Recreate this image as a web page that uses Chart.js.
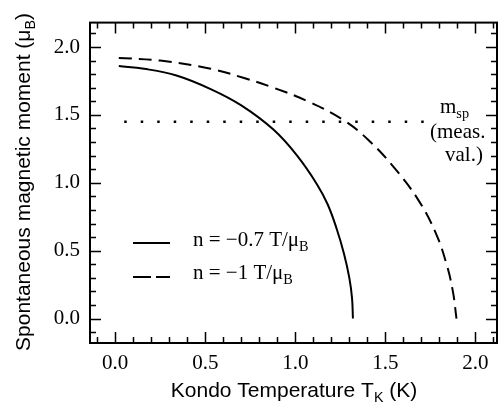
<!DOCTYPE html>
<html>
<head>
<meta charset="utf-8">
<script src="https://cdn.jsdelivr.net/npm/chart.js@4.4.1/dist/chart.umd.min.js"></script>
<style>
html, body { margin: 0; padding: 0; background: #fff; }
#wrap { width: 498px; height: 409px; }
</style>
</head>
<body>
<div id="wrap"><canvas id="chart" width="498" height="409"></canvas></div>
<script>
// values
const solidT = [0.02, 0.16, 0.34, 0.53, 0.70, 0.88, 1.01, 1.12, 1.18, 1.23, 1.27, 1.30, 1.315, 1.32];
const solidM = [1.86, 1.84, 1.79, 1.69, 1.57, 1.39, 1.20, 0.99, 0.84, 0.66, 0.48, 0.30, 0.15, 0.00];

const dashT = [0.02, 0.25, 0.53, 0.72, 0.88, 1.07, 1.27, 1.41, 1.55, 1.68, 1.78, 1.84, 1.875, 1.895];
const dashM = [1.92, 1.90, 1.84, 1.77, 1.70, 1.60, 1.46, 1.31, 1.11, 0.88, 0.63, 0.40, 0.20, 0.00];

const measT = [0.05, 1.74];
const measM = [1.45, 1.45];

const xTicks = [0, 0.5, 1.0, 1.5, 2.0];
const yTicks = [0, 0.5, 1.0, 1.5, 2.0];

const legendLabels = [['n = \u22120.7 T/\u03bc', 'B'], ['n = \u22121 T/\u03bc', 'B']];

const SERIF = '"Liberation Serif", "Times New Roman", serif';
const SANS = '"Liberation Sans", Arial, sans-serif';

function pts(xs, ys) {
    return xs.map((v, i) => ({ x: v, y: ys[i] }));
}

// draws text where parts can be subscript
function richText(ctx, parts, x, y, size, family, align) {
    let widths = [];
    let total = 0;
    parts.forEach(p => {
        ctx.font = (p.sub ? size * 0.68 : size) + 'px ' + family;
        const w = ctx.measureText(p.t).width;
        widths.push(w);
        total += w;
    });
    let cx = align === 'center' ? x - total / 2 : (align === 'right' ? x - total : x);
    ctx.textAlign = 'left';
    ctx.textBaseline = 'alphabetic';
    parts.forEach((p, i) => {
        ctx.font = (p.sub ? size * 0.68 : size) + 'px ' + family;
        ctx.fillText(p.t, cx, p.sub ? y + size * 0.22 : y);
        cx += widths[i];
    });
}

const framePlugin = {
    id: 'frame',
    afterDraw(chart) {
        const ctx = chart.ctx;
        const a = chart.chartArea;
        const xs = chart.scales.x;
        const ys = chart.scales.y;
        ctx.save();
        ctx.strokeStyle = '#000';
        ctx.fillStyle = '#000';
        ctx.lineWidth = 2;
        ctx.strokeRect(a.left, a.top, a.right - a.left, a.bottom - a.top);

        // inward ticks on all four sides
        ctx.lineWidth = 1.5;
        ctx.beginPath();
        for (let i = -2; i <= 22; i++) {
            const px = Math.round(xs.getPixelForValue(i / 10)) + 0.5;
            if (px < a.left + 2 || px > a.right - 2) continue;
            const len = i % 5 === 0 ? 11 : 6;
            ctx.moveTo(px, a.bottom); ctx.lineTo(px, a.bottom - len);
            ctx.moveTo(px, a.top); ctx.lineTo(px, a.top + len);
        }
        for (let i = -2; i <= 22; i++) {
            const py = Math.round(ys.getPixelForValue(i / 10)) + 0.5;
            if (py < a.top + 2 || py > a.bottom - 2) continue;
            const len = i % 5 === 0 ? 11 : 6;
            ctx.moveTo(a.left, py); ctx.lineTo(a.left + len, py);
            ctx.moveTo(a.right, py); ctx.lineTo(a.right - len, py);
        }
        ctx.stroke();

        // legend
        ctx.lineWidth = 2;
        ctx.beginPath();
        ctx.moveTo(133, 243); ctx.lineTo(170, 243);
        ctx.stroke();
        ctx.setLineDash([18, 5]);
        ctx.beginPath();
        ctx.moveTo(133, 277); ctx.lineTo(170, 277);
        ctx.stroke();
        ctx.setLineDash([]);
        richText(ctx, [{ t: legendLabels[0][0] }, { t: legendLabels[0][1], sub: true }], 193, 246, 21, SERIF, 'left');
        richText(ctx, [{ t: legendLabels[1][0] }, { t: legendLabels[1][1], sub: true }], 193, 279, 21, SERIF, 'left');

        // measured value note
        richText(ctx, [{ t: 'm' }, { t: 'sp', sub: true }], 440, 113, 21, SERIF, 'left');
        richText(ctx, [{ t: '(meas.' }], 430, 138, 21, SERIF, 'left');
        richText(ctx, [{ t: 'val.)' }], 445, 161, 21, SERIF, 'left');

        // axis titles
        richText(ctx, [{ t: 'Kondo Temperature T' }, { t: 'K', sub: true }, { t: ' (K)' }], 294, 397, 21, SANS, 'center');
        ctx.translate(30, 182);
        ctx.rotate(-Math.PI / 2);
        richText(ctx, [{ t: 'Spontaneous magnetic moment (\u03bc' }, { t: 'B', sub: true }, { t: ')' }], 0, 0, 21, SANS, 'center');
        ctx.restore();
    }
};

new Chart(document.getElementById('chart'), {
    type: 'scatter',
    data: {
        datasets: [
            {
                data: pts(solidT, solidM),
                showLine: true,
                borderColor: '#000',
                borderWidth: 2,
                pointRadius: 0,
                tension: 0.4
            },
            {
                data: pts(dashT, dashM),
                showLine: true,
                borderColor: '#000',
                borderWidth: 2,
                borderDash: [13, 7],
                pointRadius: 0,
                tension: 0.4
            },
            {
                data: pts(measT, measM),
                showLine: true,
                borderColor: '#000',
                borderWidth: 2.5,
                borderDash: [2.5, 14],
                pointRadius: 0
            }
        ]
    },
    options: {
        responsive: false,
        animation: false,
        layout: { padding: { top: 16, right: 1, left: 0, bottom: 0 } },
        plugins: { legend: { display: false }, tooltip: { enabled: false } },
        scales: {
            x: {
                type: 'linear',
                min: -0.14,
                max: 2.12,
                afterBuildTicks: s => { s.ticks = xTicks.map(v => ({ value: v })); },
                afterFit: s => { s.height = 66; },
                ticks: {
                    callback: v => v.toFixed(1),
                    font: { family: SERIF, size: 21 },
                    color: '#000',
                    padding: 8,
                    maxRotation: 0,
                    autoSkip: false
                },
                grid: { display: false, drawTicks: false },
                border: { display: false }
            },
            y: {
                type: 'linear',
                min: -0.18,
                max: 2.18,
                afterBuildTicks: s => { s.ticks = yTicks.map(v => ({ value: v })); },
                afterFit: s => { s.width = 90; },
                ticks: {
                    callback: v => v.toFixed(1),
                    font: { family: SERIF, size: 21 },
                    color: '#000',
                    padding: 10,
                    autoSkip: false
                },
                grid: { display: false, drawTicks: false },
                border: { display: false }
            }
        }
    },
    plugins: [framePlugin]
});
</script>
</body>
</html>
